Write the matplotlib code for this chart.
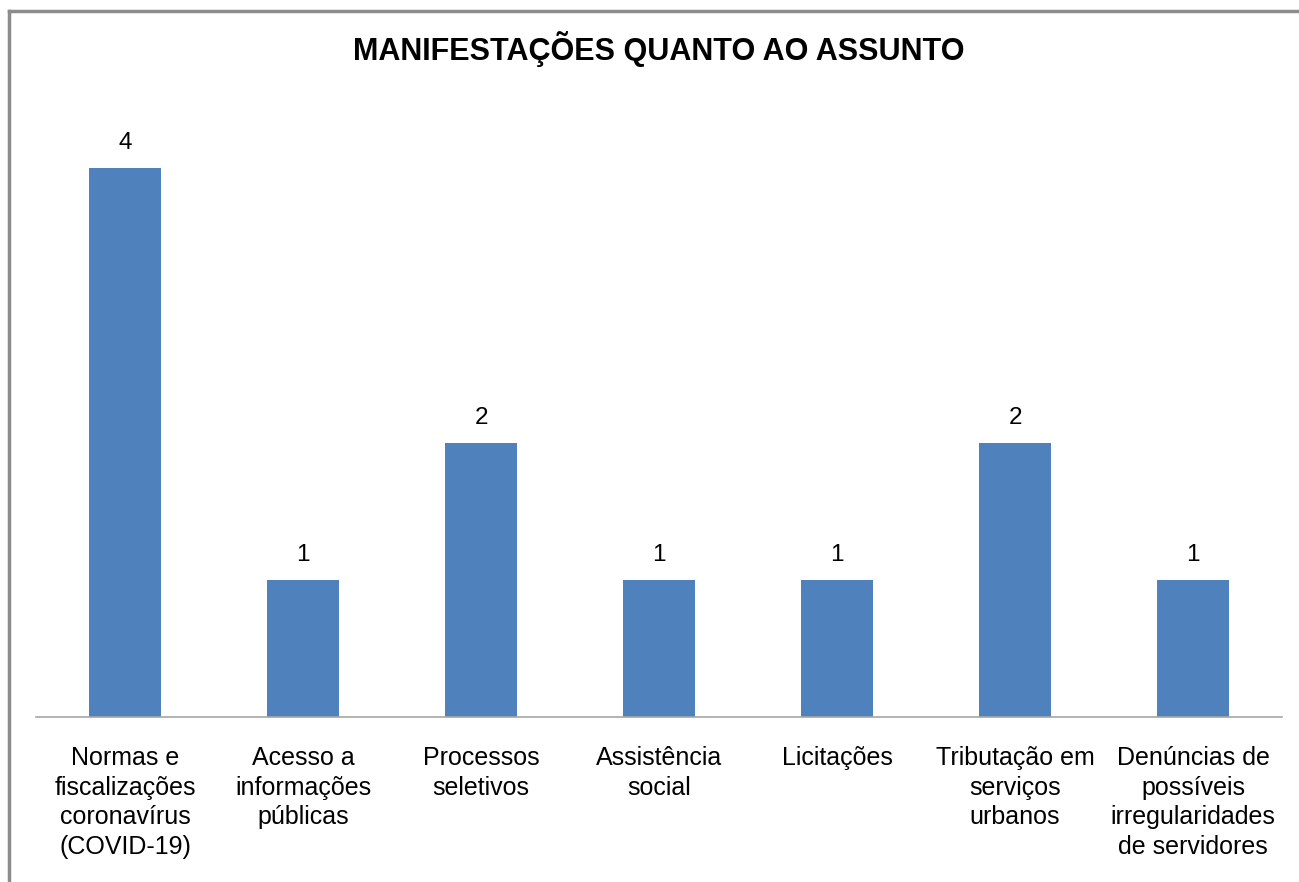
import matplotlib.pyplot as plt
from matplotlib.lines import Line2D

categories = [
    'Normas e\nfiscalizações\ncoronavírus\n(COVID-19)',
    'Acesso a\ninformações\npúblicas',
    'Processos\nseletivos',
    'Assistência\nsocial',
    'Licitações',
    'Tributação em\nserviços\nurbanos',
    'Denúncias de\npossíveis\nirregularidades\nde servidores',
]
values = [4, 1, 2, 1, 1, 2, 1]

plt.rcParams['font.family'] = ['Liberation Sans', 'DejaVu Sans']

W, H = 1299, 882
fig = plt.figure(figsize=(W / 100, H / 100), dpi=100)

# axes placed in pixel terms: baseline at y=717, 137.25 px per unit
top_val = 4.5
ax_top = 717 - top_val * 137.25
ax = fig.add_axes([36 / W, 1 - 717 / H, (1282 - 36) / W, (717 - ax_top) / H])

x = range(len(categories))
bars = ax.bar(x, values, width=0.4, color='#4F81BD')
for xi, v in zip(x, values):
    ax.text(xi, v + 0.1, str(v), ha='center', va='bottom', fontsize=17.5)

ax.set_xlim(-0.5, len(categories) - 0.5)
ax.set_ylim(0, top_val)
ax.set_xticks(list(x))
ax.set_xticklabels(categories, fontsize=18, linespacing=1.29, va='top')
ax.tick_params(axis='x', length=0, pad=21)
ax.set_yticks([])
for s in ['top', 'right', 'left']:
    ax.spines[s].set_visible(False)
ax.spines['bottom'].set_color('#A6A6A6')
ax.spines['bottom'].set_linewidth(1.2)

fig.text(659 / W, 1 - 49 / H, 'MANIFESTAÇÕES QUANTO AO ASSUNTO',
         ha='center', va='center', fontsize=22, fontweight='bold')

# outer chart frame (top and left edges visible)
fig.add_artist(Line2D([9 / W, 1], [1 - 11 / H, 1 - 11 / H], color='#8C8C8C', lw=2.5))
fig.add_artist(Line2D([9 / W, 9 / W], [0, 1 - 11 / H], color='#8C8C8C', lw=2.5))

fig.savefig('out.png', dpi=100)
